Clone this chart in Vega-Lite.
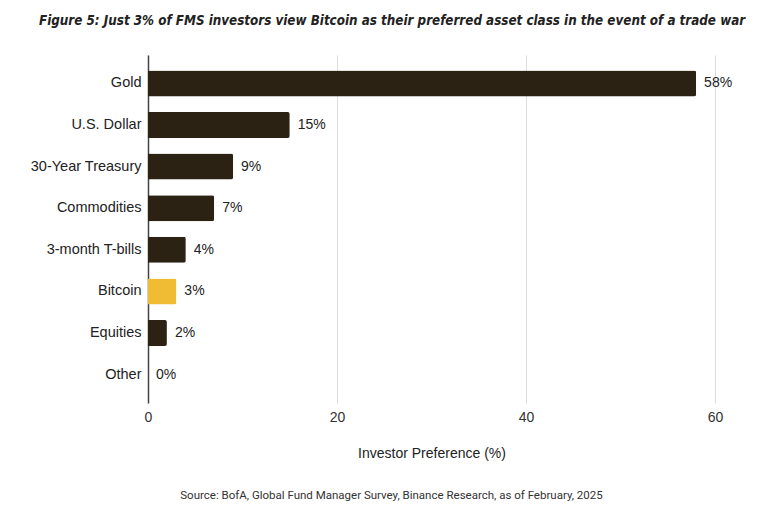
{
  "$schema": "https://vega.github.io/schema/vega-lite/v6.json",
  "background": "white",
  "padding": {"left": 30, "top": 13, "right": 5, "bottom": 5},
  "config": {"view": {"stroke": null}, "font": "Liberation Sans", "concat": {"spacing": 0}},
  "title": {
    "text": "Figure 5: Just 3% of FMS investors view Bitcoin as their preferred asset class in the event of a trade war",
    "font": "DejaVu Sans Condensed",
    "fontSize": 13.3,
    "fontWeight": "bold",
    "fontStyle": "italic",
    "color": "#222222",
    "anchor": "middle",
    "offset": 28,
    "dx": 11
  },
  "vconcat": [
    {
      "width": 567,
      "height": 348,
      "title": {
        "text": "Source: BofA, Global Fund Manager Survey, Binance Research, as of February, 2025",
        "orient": "bottom",
        "font": "Roboto",
        "fontSize": 11.5,
        "fontWeight": "normal",
        "color": "#333333",
        "anchor": "middle",
        "offset": 30,
        "dx": -40
      },
      "data": {
        "values": [
          {"category": "Gold", "value": 58},
          {"category": "U.S. Dollar", "value": 15},
          {"category": "30-Year Treasury", "value": 9},
          {"category": "Commodities", "value": 7},
          {"category": "3-month T-bills", "value": 4},
          {"category": "Bitcoin", "value": 3},
          {"category": "Equities", "value": 2},
          {"category": "Other", "value": 0}
        ]
      },
      "transform": [{"calculate": "datum.value + '%'", "as": "label"}],
      "encoding": {
        "y": {
          "field": "category",
          "type": "nominal",
          "sort": null,
          "scale": {"paddingInner": 0.375, "paddingOuter": 0.37},
          "axis": {
            "title": null,
            "domainColor": "#444444",
            "domainWidth": 1.5,
            "ticks": false,
            "labelFontSize": 14.5,
            "labelPadding": 7,
            "labelColor": "#222222"
          }
        },
        "x": {
          "field": "value",
          "type": "quantitative",
          "scale": {"domain": [0, 60], "nice": false},
          "axis": {
            "title": "Investor Preference (%)",
            "values": [0, 20, 40, 60],
            "grid": true,
            "gridColor": "#dcdcdc",
            "domain": false,
            "ticks": false,
            "labelFlush": false,
            "labelFontSize": 14,
            "labelPadding": 7,
            "labelColor": "#333333",
            "titleFontSize": 14,
            "titleFontWeight": "normal",
            "titleColor": "#222222",
            "titlePadding": 22
          }
        }
      },
      "layer": [
        {
          "mark": {"type": "bar", "cornerRadiusEnd": 2},
          "encoding": {
            "color": {
              "condition": {"test": "datum.category === 'Bitcoin'", "value": "#F0BC34"},
              "value": "#2B2213"
            }
          }
        },
        {
          "mark": {"type": "text", "align": "left", "baseline": "middle", "dx": 8, "fontSize": 14, "color": "#222222"},
          "encoding": {"text": {"field": "label"}}
        }
      ]
    }
  ]
}
